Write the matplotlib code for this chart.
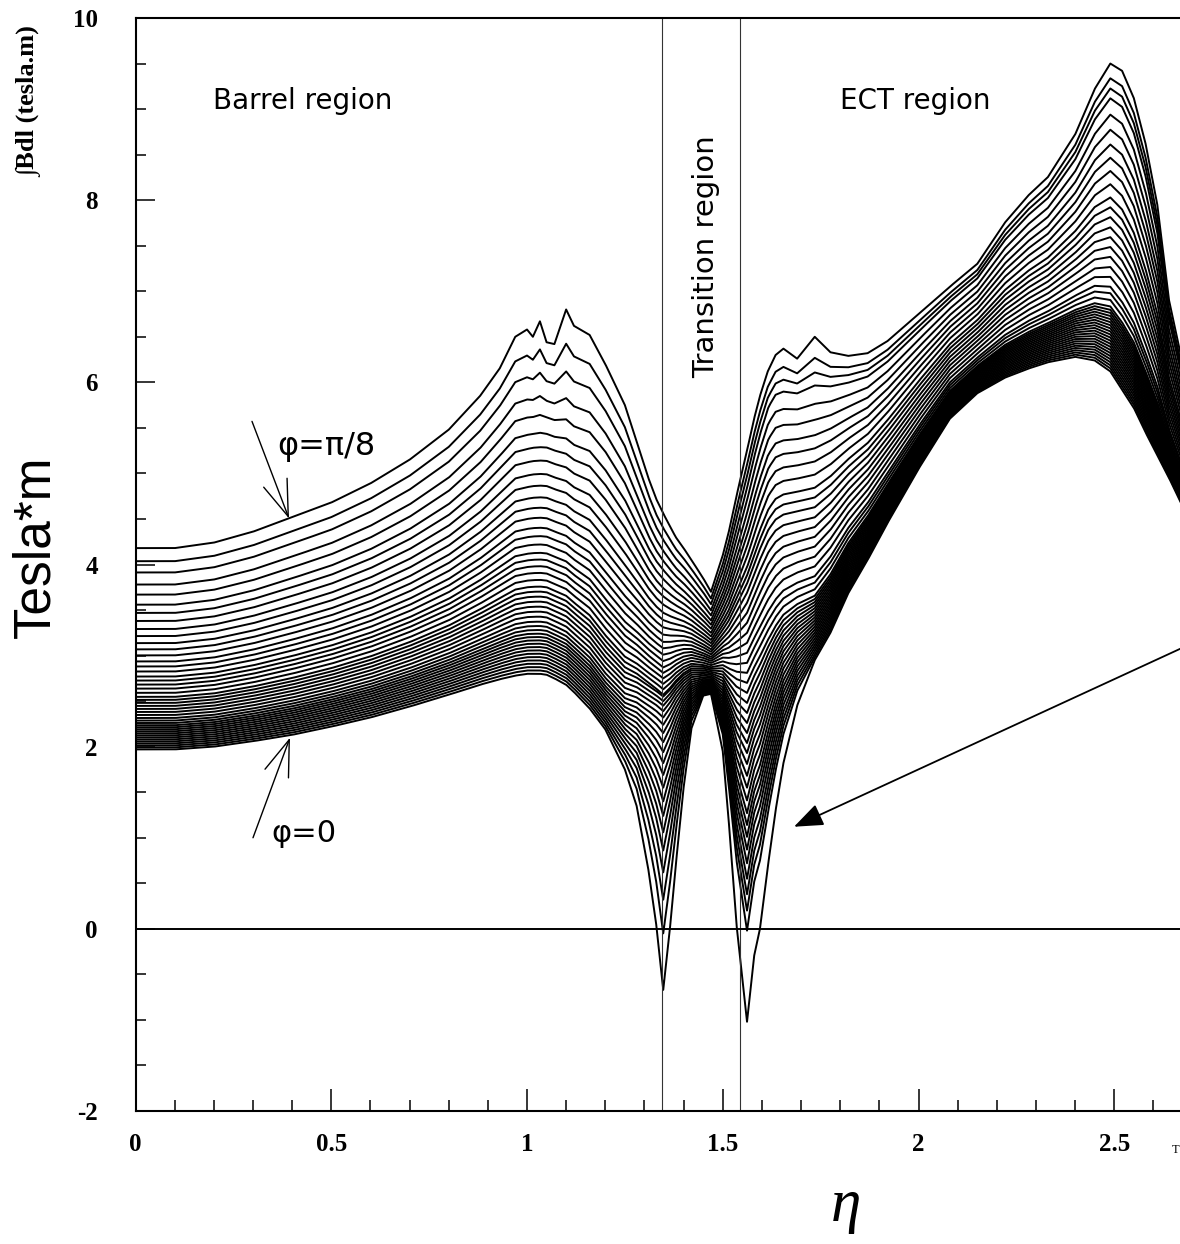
import numpy as np
import matplotlib
matplotlib.use('Agg')
import matplotlib.pyplot as plt
from matplotlib.ticker import MultipleLocator, FixedLocator, FixedFormatter

# ---------------- data ----------------
eta = [0.00, 0.10, 0.20, 0.30, 0.40, 0.50, 0.60, 0.70, 0.80, 0.88,
       0.93, 0.97, 1.00, 1.015, 1.033, 1.05, 1.07, 1.10, 1.12, 1.16,
       1.20, 1.25, 1.28, 1.31, 1.33, 1.348, 1.365, 1.38, 1.40, 1.42,
       1.45, 1.47, 1.50, 1.515, 1.535, 1.562, 1.58, 1.595, 1.615, 1.635,
       1.655, 1.69, 1.735, 1.775, 1.82, 1.87, 1.92, 2.00, 2.08, 2.15,
       2.22, 2.28, 2.33, 2.40, 2.45, 2.49, 2.52, 2.55, 2.58, 2.61,
       2.64, 2.67]

# integral B dl for phi = pi/8 (upper envelope, with its small ripples)
bdl_phi_pi8 = [4.18, 4.18, 4.24, 4.36, 4.52, 4.68, 4.89, 5.15, 5.48, 5.85,
               6.15, 6.50, 6.58, 6.50, 6.67, 6.44, 6.42, 6.80, 6.62, 6.52,
               6.20, 5.75, 5.35, 4.95, 4.72, 4.56, 4.42, 4.30, 4.18, 4.05,
               3.85, 3.70, 4.10, 4.35, 4.75, 5.25, 5.60, 5.85, 6.12, 6.30,
               6.37, 6.26, 6.50, 6.33, 6.29, 6.32, 6.45, 6.75, 7.05, 7.30,
               7.75, 8.05, 8.25, 8.72, 9.22, 9.50, 9.42, 9.12, 8.62, 7.95,
               6.90, 6.30]

# ripple part of the phi = pi/8 curve (spikes seen only on the top few curves)
pi8_ripple = [0, 0, 0, 0, 0, 0, 0, 0, 0, 0,
              0, 0.10, 0.14, 0.04, 0.20, -0.03, -0.02, 0.38, 0.26, 0.18,
              0.05, 0, 0, 0, 0, 0, 0, 0, 0, 0,
              0, 0, 0, 0, 0, 0, 0, 0, 0, 0.04,
              0.10, 0.0, 0.20, 0.04, 0, 0, 0, 0, 0, 0,
              0, 0, 0, 0, 0, 0, 0, 0, 0, 0,
              0, 0]

# integral B dl for phi = 0 (lower envelope)
bdl_phi_0 = [1.97, 1.97, 2.00, 2.06, 2.13, 2.22, 2.32, 2.44, 2.57, 2.68,
             2.74, 2.78, 2.80, 2.80, 2.80, 2.79, 2.75, 2.68, 2.60, 2.42,
             2.19, 1.75, 1.35, 0.65, 0.05, -0.67, 0.00, 0.70, 1.55, 2.20,
             2.56, 2.58, 1.95, 1.20, 0.05, -1.02, -0.30, 0.00, 0.68, 1.30,
             1.82, 2.45, 2.95, 3.25, 3.68, 4.05, 4.45, 5.05, 5.60, 5.88,
             6.05, 6.15, 6.22, 6.28, 6.24, 6.12, 5.92, 5.72, 5.45, 5.20,
             4.95, 4.68]

# level of the dense phi~0 band just outside the two dips (rim of the dips)
bdl_band_nodip = [1.97, 1.97, 2.00, 2.06, 2.13, 2.22, 2.32, 2.44, 2.57, 2.68,
                  2.74, 2.78, 2.80, 2.80, 2.80, 2.79, 2.75, 2.68, 2.60, 2.42,
                  2.19, 2.05, 2.15, 2.25, 2.33, 2.40, 2.45, 2.50, 2.53, 2.55,
                  2.56, 2.58, 2.55, 2.50, 2.45, 2.40, 2.45, 2.52, 2.62, 2.72,
                  2.82, 2.90, 2.95, 3.25, 3.68, 4.05, 4.45, 5.05, 5.60, 5.88,
                  6.05, 6.15, 6.22, 6.28, 6.24, 6.12, 5.92, 5.72, 5.45, 5.20,
                  4.95, 4.68]

# relative depth of each phi curve below the phi=pi/8 curve (0 = pi/8, 1 = phi=0)
# barrel region (read at eta ~ 1.05)
curve_depth_barrel = [0.000, 0.065, 0.121, 0.181, 0.231, 0.281, 0.322, 0.362, 0.402, 0.437,
                      0.472, 0.503, 0.533, 0.563, 0.588, 0.613, 0.638, 0.658, 0.678, 0.698,
                      0.719, 0.739, 0.754, 0.769, 0.784, 0.799, 0.814, 0.829, 0.844, 0.857,
                      0.869, 0.880, 0.890, 0.900, 0.910, 0.920, 0.930, 0.940, 0.950, 0.960,
                      0.970, 0.980, 0.990, 1.000]
# ECT region (read at eta ~ 2.49)
curve_depth_ect = [0.000, 0.048, 0.081, 0.113, 0.166, 0.215, 0.263, 0.306, 0.349, 0.392,
                   0.435, 0.467, 0.499, 0.532, 0.564, 0.596, 0.628, 0.661, 0.693, 0.725,
                   0.746, 0.768, 0.789, 0.800, 0.810, 0.820, 0.830, 0.840, 0.850, 0.860,
                   0.870, 0.880, 0.890, 0.900, 0.910, 0.920, 0.930, 0.940, 0.950, 0.960,
                   0.970, 0.980, 0.990, 1.000]

# bottom of each curve inside the two transition dips (nested V's)
left_dip_floor = [4.56, 4.40, 4.27, 4.15, 4.04, 3.94, 3.84, 3.74, 3.65, 3.56,
                  3.47, 3.39, 3.31, 3.23, 3.15, 3.08, 3.01, 2.94, 2.87, 2.81,
                  2.75, 2.69, 2.63, 2.57, 2.55, 2.50, 2.45, 2.39, 2.32, 2.24,
                  2.15, 2.05, 1.94, 1.82, 1.69, 1.55, 1.40, 1.24, 1.06, 0.86,
                  0.62, 0.32, -0.05, -0.67]
right_dip_floor = [5.25, 5.10, 4.97, 4.84, 4.72, 4.60, 4.48, 4.36, 4.24, 4.13,
                   4.02, 3.91, 3.80, 3.69, 3.58, 3.47, 3.36, 3.25, 3.14, 3.03,
                   2.92, 2.81, 2.70, 2.59, 2.48, 2.37, 2.26, 2.15, 2.04, 1.93,
                   1.81, 1.68, 1.55, 1.41, 1.27, 1.14, 1.01, 0.87, 0.72, 0.55,
                   0.38, 0.20, -0.02, -1.02]
dip_centres = [1.348, 1.562]
ripple_weight = [1.0, 0.65, 0.4, 0.22, 0.1, 0.04]
barrel_to_ect = [1.47, 1.62]

region_bounds = [1.345, 1.545]
xtick_vals = [0, 0.5, 1, 1.5, 2, 2.5]
xtick_labels = ['0', '0.5', '1', '1.5', '2', '2.5']
ytick_vals = [-2, 0, 2, 4, 6, 8, 10]
ytick_labels = ['-2', '0', '2', '4', '6', '8', '10']

# ---------------- figure ----------------
W, H = 1180, 1244
fig = plt.figure(figsize=(W / 100, H / 100), dpi=100, facecolor='white')
x_left_px, px_per_unit = 135.5, 391.5
top_px, bot_px = 18, 1111
ax = fig.add_axes([x_left_px / W, 1 - bot_px / H, 1 - x_left_px / W, (bot_px - top_px) / H])
ax.set_xlim(0, (W - x_left_px) / px_per_unit)
ax.set_ylim(-2, 10)

def fpos(x, y):
    return x / W, 1 - y / H

# dense sampling of the read polylines
ef = np.union1d(np.array(eta), np.linspace(eta[0], eta[-1], 2400))
b1s = np.interp(ef, eta, np.array(bdl_phi_pi8) - np.array(pi8_ripple))
rip = np.interp(ef, eta, pi8_ripple)
b0 = np.interp(ef, eta, bdl_phi_0)
b0s = np.interp(ef, eta, bdl_band_nodip)
dip_shape = np.minimum(b0 - b0s, 0.0)
is_left = ef < 0.5 * (dip_centres[0] + dip_centres[1])
ect_frac = np.interp(ef, barrel_to_ect, [0.0, 1.0])
ic = [int(np.argmin(np.abs(ef - c))) for c in dip_centres]
vc = [-dip_shape[i] for i in ic]

for k in range(len(curve_depth_barrel)):
    dk = (1 - ect_frac) * curve_depth_barrel[k] + ect_frac * curve_depth_ect[k]
    smooth = b1s - dk * (b1s - b0s)
    depth_l = max(0.0, smooth[ic[0]] - left_dip_floor[k])
    depth_r = max(0.0, smooth[ic[1]] - right_dip_floor[k])
    scale = np.where(is_left, depth_l / vc[0], depth_r / vc[1])
    y = smooth + scale * dip_shape
    if k < len(ripple_weight):
        y = y + ripple_weight[k] * rip
    ax.plot(ef, y, color='black', lw=1.4, solid_joinstyle='round')

for xb in region_bounds:
    ax.axvline(xb, color='#333333', lw=0.8)
ax.axhline(0, color='black', lw=1.4)

# spines / ticks
ax.spines['right'].set_visible(False)
for s in ['left', 'bottom', 'top']:
    ax.spines[s].set_linewidth(1.5)
ax.xaxis.set_major_locator(FixedLocator(xtick_vals))
ax.xaxis.set_major_formatter(FixedFormatter(xtick_labels))
ax.xaxis.set_minor_locator(MultipleLocator(0.1))
ax.yaxis.set_major_locator(FixedLocator(ytick_vals))
ax.yaxis.set_major_formatter(FixedFormatter(ytick_labels))
ax.yaxis.set_minor_locator(MultipleLocator(0.5))
ax.tick_params(which='both', direction='in', top=False, right=False, width=1.1)
ax.tick_params(axis='x', which='major', length=16, pad=16)
ax.tick_params(axis='x', which='minor', length=8)
ax.tick_params(axis='y', which='major', length=14, pad=27)
ax.tick_params(axis='y', which='minor', length=7)
for lab in ax.get_xticklabels() + ax.get_yticklabels():
    lab.set_fontfamily('Liberation Serif')
    lab.set_fontweight('bold')
    lab.set_fontsize(18)

# region labels
fig.text(*fpos(213, 101), 'Barrel region', fontsize=20, family='DejaVu Sans',
         ha='left', va='center')
fig.text(*fpos(840, 101), 'ECT region', fontsize=20, family='DejaVu Sans',
         ha='left', va='center')
fig.text(*fpos(706, 257), 'Transition region', fontsize=21, family='DejaVu Sans',
         ha='center', va='center', rotation=90)

# phi labels + arrows
fig.text(*fpos(277, 446), 'φ=π/8', fontsize=23, family='DejaVu Sans', ha='left', va='center')
fig.text(*fpos(271, 834), 'φ=0', fontsize=22, family='DejaVu Sans', ha='left', va='center')

def d(xp, yp):
    return (xp - x_left_px) / px_per_unit, (929 - yp) / 91.0

ax.annotate('', xy=d(289, 519), xytext=d(252, 422),
            arrowprops=dict(arrowstyle='->,head_length=1.3,head_width=0.45', lw=1.0,
                            color='black', shrinkA=0, shrinkB=0, mutation_scale=20))
ax.annotate('', xy=d(290, 738), xytext=d(253, 838),
            arrowprops=dict(arrowstyle='->,head_length=1.3,head_width=0.45', lw=1.0,
                            color='black', shrinkA=0, shrinkB=0, mutation_scale=20))
ax.annotate('', xy=d(794, 827), xytext=d(1185, 647), annotation_clip=False,
            arrowprops=dict(arrowstyle='-|>,head_length=0.9,head_width=0.35', lw=1.3,
                            color='black', fc='black', shrinkA=0, shrinkB=0, mutation_scale=20))

# axis titles
fig.text(*fpos(30, 102), '∫Bdl (tesla.m)', fontsize=19, fontweight='bold',
         family=['Liberation Serif', 'DejaVu Serif'], rotation=90, ha='center', va='center')
fig.text(*fpos(36, 547), 'Tesla*m', fontsize=37, family='Liberation Sans',
         rotation=90, ha='center', va='center')
fig.text(*fpos(846, 1206), 'η', fontsize=44, family='Liberation Serif', style='italic',
         ha='center', va='center')
fig.text(*fpos(1176, 1150), 'T', fontsize=9, family='Liberation Serif', ha='center', va='center')

fig.savefig('out.png', dpi=100, facecolor='white')
